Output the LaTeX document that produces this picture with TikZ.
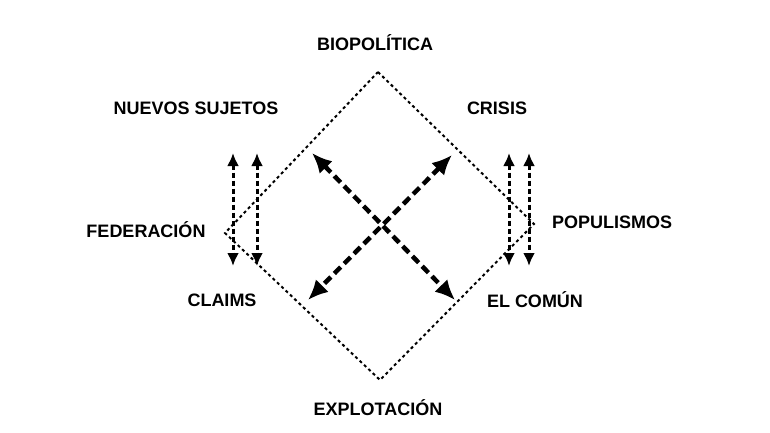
\documentclass[tikz,border=0pt]{standalone}
\usepackage{fontspec}
\setmainfont{Liberation Sans}
\usetikzlibrary{arrows.meta}
\begin{document}
\begin{tikzpicture}[x=1pt,y=-1pt,
  lbl/.style={font=\fontsize{18}{20}\selectfont\bfseries},
  dia/.style={dash pattern=on 3pt off 3pt,line width=2pt},
  darr/.style={dash pattern=on 9pt off 5pt,line width=4.5pt,{Latex[length=20pt,width=18pt]}-{Latex[length=20pt,width=18pt]}},
  varr/.style={dash pattern=on 5pt off 3pt,line width=3pt,{Latex[length=13pt,width=12pt]}-{Latex[length=13pt,width=12pt]}}]
\useasboundingbox (0,0) rectangle (770,433);
\coordinate (T) at (378,72);
\coordinate (L) at (225,233);
\coordinate (R) at (534,224);
\coordinate (B) at (380,380);
\draw[dia] (T) -- (R) -- (B) -- (L) -- cycle;
\coordinate (a1) at (312,153); \coordinate (a2) at (455,300);
\coordinate (b1) at (452,155); \coordinate (b2) at (308,300);
\draw[darr] (a1) -- (a2);
\draw[darr] (b1) -- (b2);
\coordinate (l1t) at (233,153); \coordinate (l1b) at (233,266);
\coordinate (l2t) at (257,153); \coordinate (l2b) at (257,266);
\coordinate (r1t) at (509,153); \coordinate (r1b) at (509,266);
\coordinate (r2t) at (529,153); \coordinate (r2b) at (529,266);
\draw[varr] (l1t) -- (l1b);
\draw[varr] (l2t) -- (l2b);
\draw[varr] (r1t) -- (r1b);
\draw[varr] (r2t) -- (r2b);
\node[lbl] (bio) at (375,43) {BIOPOLÍTICA};
\node[lbl] (nue) at (196,108) {NUEVOS SUJETOS};
\node[lbl] (cri) at (497,108) {CRISIS};
\node[lbl] (fed) at (146,230) {FEDERACIÓN};
\node[lbl] (pop) at (612,222) {POPULISMOS};
\node[lbl] (cla) at (222,300) {CLAIMS};
\node[lbl] (com) at (535,300) {EL COMÚN};
\node[lbl] (exp) at (378,408) {EXPLOTACIÓN};
\end{tikzpicture}
\end{document}
